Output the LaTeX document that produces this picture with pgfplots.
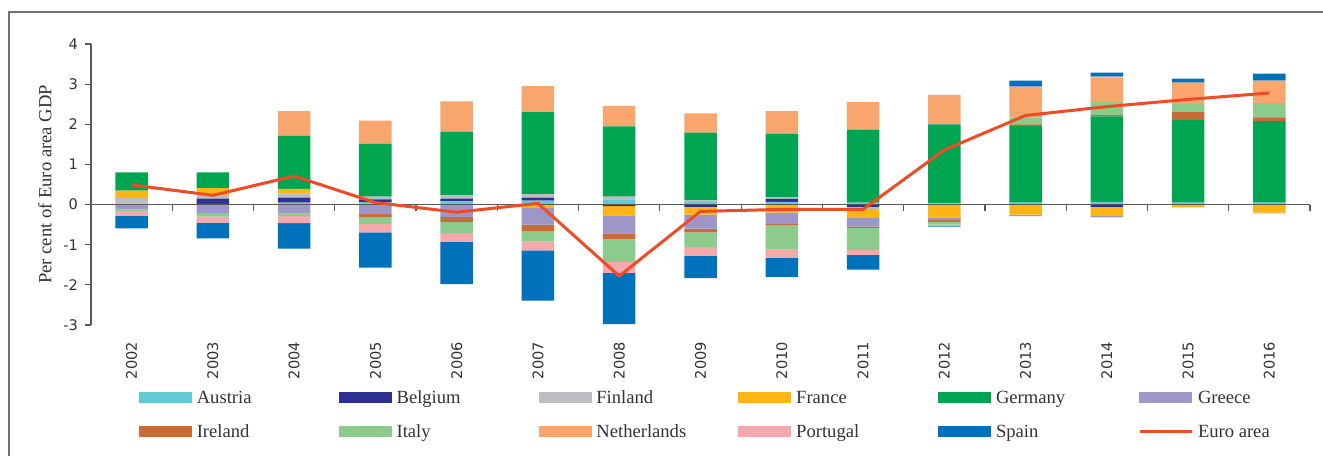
\documentclass[border=0pt]{standalone}
\usepackage{pgfplots}
\pgfplotsset{compat=1.18}
\usepackage{pgfplotstable}
\usepackage{fontspec}
\setmainfont{Liberation Serif}
\newfontfamily\tickfont{DejaVu Sans}

\definecolor{AT}{HTML}{64C9D6}
\definecolor{BE}{HTML}{2E3192}
\definecolor{FI}{HTML}{BCBDC0}
\definecolor{FR}{HTML}{FDB515}
\definecolor{DE}{HTML}{00A551}
\definecolor{GR}{HTML}{9E96C8}
\definecolor{IE}{HTML}{C96B37}
\definecolor{IT}{HTML}{8BCC8C}
\definecolor{NL}{HTML}{F8A66E}
\definecolor{PT}{HTML}{F5A9AC}
\definecolor{ES}{HTML}{0072BC}
\definecolor{EU}{HTML}{EF4B26}
\definecolor{axgray}{HTML}{595959}
\definecolor{txt}{HTML}{333333}

% positive contributions
\pgfplotstableread{
x  Au   Be   Fi   Fr   De   Gr Ie   It   Nl   Pt   Es
0  0.03 0    0.13 0.19 0.45 0  0    0    0    0    0
1  0.02 0.13 0.07 0.19 0.39 0  0    0    0    0    0
2  0.05 0.12 0.11 0.11 1.32 0  0    0    0.62 0    0
3  0.06 0.07 0.07 0    1.32 0  0    0    0.57 0    0
4  0.08 0.07 0.08 0    1.59 0  0    0    0.75 0    0
5  0.10 0.07 0.09 0    2.04 0  0    0    0.65 0    0
6  0.13 0    0.07 0    1.75 0  0    0    0.51 0    0
7  0.07 0    0.04 0    1.68 0  0    0    0.48 0    0
8  0.07 0.07 0.04 0    1.59 0  0    0    0.56 0    0
9  0.05 0    0    0    1.82 0  0    0    0.69 0    0
10 0.03 0    0    0    1.97 0  0    0    0.73 0    0
11 0.05 0    0    0    1.91 0  0.04 0.17 0.74 0.03 0.15
12 0.07 0    0    0    2.13 0  0.03 0.32 0.62 0.02 0.10
13 0.05 0    0    0    2.06 0  0.19 0.21 0.53 0    0.10
14 0.05 0    0    0    2.03 0  0.09 0.36 0.56 0    0.17
}\pos

% negative contributions
\pgfplotstableread{
x  Au Be    Fi    Fr    De Gr    Ie    It    Nl Pt    Es
0  0  0     0     0     0  -0.12 0     -0.04 0  -0.12 -0.31
1  0  0     0     0     0  -0.21 0     -0.09 0  -0.15 -0.39
2  0  0     0     0     0  -0.22 0     -0.07 0  -0.17 -0.64
3  0  0     0     0     0  -0.24 -0.08 -0.16 0  -0.21 -0.88
4  0  0     0     0     0  -0.31 -0.12 -0.28 0  -0.21 -1.06
5  0  0     0     -0.08 0  -0.42 -0.16 -0.26 0  -0.22 -1.25
6  0  -0.04 0     -0.23 0  -0.45 -0.15 -0.56 0  -0.27 -1.28
7  0  -0.06 0     -0.19 0  -0.35 -0.09 -0.37 0  -0.22 -0.55
8  0  0     0     -0.20 0  -0.28 -0.04 -0.60 0  -0.21 -0.47
9  0  -0.06 -0.04 -0.23 0  -0.22 -0.03 -0.55 0  -0.12 -0.37
10 0  0     0     -0.32 0  -0.07 -0.04 -0.07 0  -0.03 -0.02
11 0  0     0     -0.25 0  -0.04 0     0     0  0     0
12 0  -0.06 0     -0.23 0  -0.03 0     0     0  0     0
13 0  0     0     -0.07 0  0     0     0     0  0     0
14 0  0     0     -0.20 0  -0.02 0     0     0  0     0
}\neg

% euro area total
\pgfplotstableread{
x  v
0  0.49
1  0.23
2  0.71
3  0.05
4  -0.19
5  0.03
6  -1.78
7  -0.17
8  -0.12
9  -0.12
10 1.36
11 2.22
12 2.44
13 2.62
14 2.78
}\eu

\pgfplotsset{
  base/.style={
    at={(45.5pt,65.5pt)}, anchor=south west,
    scale only axis, width=609.5pt, height=140.5pt,
    xmin=-0.5, xmax=14.5, ymin=-3, ymax=4,
  },
}

\begin{document}
\begin{tikzpicture}
\useasboundingbox (0pt,0pt) rectangle (661.5pt,228pt);
\draw[color=axgray!85, line width=0.75pt] (4.5pt,0pt) -- (4.5pt,222pt) -- (661.5pt,222pt);

% positive stack with the axes
\begin{axis}[base,
  ybar stacked, bar width=16.25pt,
  axis y line*=left, axis x line*=bottom,
  x axis line style={draw=none},
  y axis line style={color=axgray, line width=0.6pt},
  xtick={0,...,14},
  xticklabels={2002,2003,2004,2005,2006,2007,2008,2009,2010,2011,2012,2013,2014,2015,2016},
  xtick style={draw=none},
  ytick={-3,-2,-1,0,1,2,3,4},
  ytick style={color=axgray, line width=0.6pt},
  tick align=outside, major tick length=3pt,
  /pgf/number format/assume math mode=true,
  ticklabel style={font=\tickfont\fontsize{7.3}{8}\selectfont, text=txt},
  xticklabel style={rotate=90, anchor=east},
  xticklabel shift=2pt,
  ylabel={Per cent of Euro area GDP},
  ylabel style={at={(axis description cs:-0.0377,0.5)}, anchor=center, font=\fontsize{9.3}{11}\selectfont, text=txt},
]
\addplot[fill=AT, draw=none] table[x=x, y=Au] {\pos};
\addplot[fill=BE, draw=none] table[x=x, y=Be] {\pos};
\addplot[fill=FI, draw=none] table[x=x, y=Fi] {\pos};
\addplot[fill=FR, draw=none] table[x=x, y=Fr] {\pos};
\addplot[fill=DE, draw=none] table[x=x, y=De] {\pos};
\addplot[fill=GR, draw=none] table[x=x, y=Gr] {\pos};
\addplot[fill=IE, draw=none] table[x=x, y=Ie] {\pos};
\addplot[fill=IT, draw=none] table[x=x, y=It] {\pos};
\addplot[fill=NL, draw=none] table[x=x, y=Nl] {\pos};
\addplot[fill=PT, draw=none] table[x=x, y=Pt] {\pos};
\addplot[fill=ES, draw=none] table[x=x, y=Es] {\pos};
\end{axis}

% negative stack
\begin{axis}[base, hide axis, ybar stacked, bar width=16.25pt]
\addplot[fill=AT, draw=none] table[x=x, y=Au] {\neg};
\addplot[fill=BE, draw=none] table[x=x, y=Be] {\neg};
\addplot[fill=FI, draw=none] table[x=x, y=Fi] {\neg};
\addplot[fill=FR, draw=none] table[x=x, y=Fr] {\neg};
\addplot[fill=DE, draw=none] table[x=x, y=De] {\neg};
\addplot[fill=GR, draw=none] table[x=x, y=Gr] {\neg};
\addplot[fill=IE, draw=none] table[x=x, y=Ie] {\neg};
\addplot[fill=IT, draw=none] table[x=x, y=It] {\neg};
\addplot[fill=NL, draw=none] table[x=x, y=Nl] {\neg};
\addplot[fill=PT, draw=none] table[x=x, y=Pt] {\neg};
\addplot[fill=ES, draw=none] table[x=x, y=Es] {\neg};
\end{axis}

% zero line, euro area line, legend
\begin{axis}[base, hide axis, clip=false,
  legend columns=6,
  legend style={draw=none, fill=none, inner sep=0pt, outer sep=0pt,
    at={(0,0)}, anchor=north west, xshift=24pt, yshift=-32.5pt,
    row sep=8.5pt,
    font=\fontsize{9.3}{11}\selectfont, text=txt,
    nodes={inner sep=0pt, text height=6.5pt, text depth=2pt},
    /tikz/every odd column/.append style={column sep=2.5pt},
    /tikz/every even column/.append style={column sep=3pt}},
]
\draw[color=axgray, line width=0.6pt] (axis cs:-0.5,0) -- (axis cs:14.5,0);
\pgfplotsinvokeforeach{0.5,1.5,2.5,3.5,4.5,5.5,6.5,7.5,8.5,9.5,10.5,11.5,12.5,13.5,14.5}{
  \draw[color=axgray, line width=0.6pt] (axis cs:#1,0) -- ++(0pt,-3pt);
}
\addlegendimage{legend image code/.code={\fill[AT] (0pt,-2pt) rectangle (26pt,3pt);}}
\addlegendentry{\makebox[68pt][l]{Austria}}
\addlegendimage{legend image code/.code={\fill[BE] (0pt,-2pt) rectangle (26pt,3pt);}}
\addlegendentry{\makebox[68pt][l]{Belgium}}
\addlegendimage{legend image code/.code={\fill[FI] (0pt,-2pt) rectangle (26pt,3pt);}}
\addlegendentry{\makebox[68pt][l]{Finland}}
\addlegendimage{legend image code/.code={\fill[FR] (0pt,-2pt) rectangle (26pt,3pt);}}
\addlegendentry{\makebox[68pt][l]{France}}
\addlegendimage{legend image code/.code={\fill[DE] (0pt,-2pt) rectangle (26pt,3pt);}}
\addlegendentry{\makebox[68pt][l]{Germany}}
\addlegendimage{legend image code/.code={\fill[GR] (0pt,-2pt) rectangle (26pt,3pt);}}
\addlegendentry{\makebox[68pt][l]{Greece}}
\addlegendimage{legend image code/.code={\fill[IE] (0pt,-2pt) rectangle (26pt,3pt);}}
\addlegendentry{\makebox[68pt][l]{Ireland}}
\addlegendimage{legend image code/.code={\fill[IT] (0pt,-2pt) rectangle (26pt,3pt);}}
\addlegendentry{\makebox[68pt][l]{Italy}}
\addlegendimage{legend image code/.code={\fill[NL] (0pt,-2pt) rectangle (26pt,3pt);}}
\addlegendentry{\makebox[68pt][l]{Netherlands}}
\addlegendimage{legend image code/.code={\fill[PT] (0pt,-2pt) rectangle (26pt,3pt);}}
\addlegendentry{\makebox[68pt][l]{Portugal}}
\addlegendimage{legend image code/.code={\fill[ES] (0pt,-2pt) rectangle (26pt,3pt);}}
\addlegendentry{\makebox[68pt][l]{Spain}}
\addplot[color=EU, line width=1.5pt, mark=none,
  legend image code/.code={\draw[EU, line width=1.5pt] (0pt,0.5pt) -- (26pt,0.5pt);}]
  table[x=x, y=v] {\eu};
\addlegendentry{\makebox[68pt][l]{Euro area}}
\end{axis}
\end{tikzpicture}
\end{document}
